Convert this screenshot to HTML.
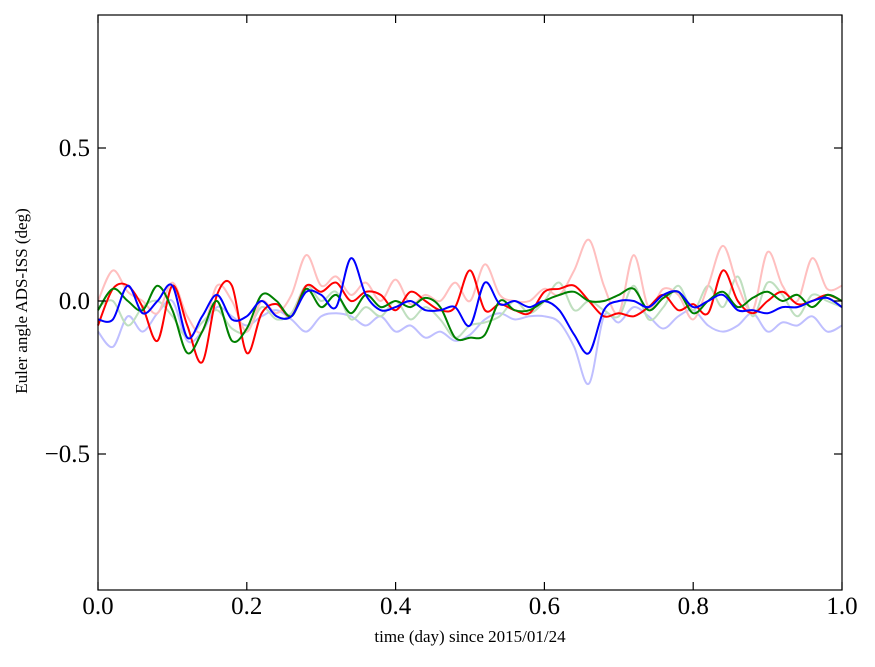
<!DOCTYPE html>
<html><head><meta charset="utf-8"><style>
body{margin:0;background:#fff;}
svg text{font-family:"Liberation Serif",serif;fill:#000;}
</style></head><body>
<svg id="chart" width="875" height="662" xmlns="http://www.w3.org/2000/svg">
<rect x="0" y="0" width="875" height="662" fill="#fff"/>
<g id="series"></g>
<rect x="98" y="15" width="744" height="575" fill="none" stroke="#000" stroke-width="1.2"/>
<g id="ticks"></g>
<text x="470" y="642" font-size="17" text-anchor="middle">time (day) since 2015/01/24</text>
<text transform="translate(27,301) rotate(-90)" font-size="17" text-anchor="middle">Euler angle ADS-ISS (deg)</text>
</svg>
<script>
const times=[0,.02,.04,.06,.08,.10,.12,.14,.16,.18,.20,.22,.24,.26,.28,.30,.32,.34,.36,.38,.40,.42,.44,.46,.48,.50,.52,.54,.56,.58,.60,.62,.64,.66,.68,.70,.72,.74,.76,.78,.80,.82,.84,.86,.88,.90,.92,.94,.96,.98,1.0];
const redVals=[-0.08,0.04,0.05,-0.02,-0.13,0.05,-0.08,-0.2,0.02,0.05,-0.17,-0.04,-0.01,-0.05,0.05,0.03,0.06,0.0,0.03,0.02,-0.03,0.03,0.0,-0.03,-0.02,0.1,-0.03,-0.01,-0.03,-0.04,0.03,0.04,0.05,0.0,-0.05,-0.04,-0.05,-0.02,0.02,-0.03,-0.01,-0.04,0.1,0.0,-0.04,0.0,0.03,-0.01,0.0,0.02,0.0];
const greenVals=[-0.03,0.04,0.0,-0.03,0.05,-0.03,-0.17,-0.1,0.0,-0.13,-0.09,0.02,0.0,-0.05,0.04,-0.02,0.02,-0.04,0.02,-0.02,0.0,-0.02,0.01,-0.02,-0.12,-0.12,-0.11,0.0,-0.03,-0.03,0.0,0.02,0.03,0.0,0.0,0.02,0.04,-0.03,0.01,0.03,-0.04,0.0,0.03,-0.02,0.01,0.03,0.0,0.02,-0.02,0.02,0.0];
const blueVals=[-0.06,-0.06,0.05,-0.04,0.0,0.05,-0.12,-0.05,0.02,-0.06,-0.05,0.0,-0.05,-0.05,0.03,0.02,-0.02,0.14,0.02,-0.03,-0.02,0.0,-0.03,-0.03,-0.02,-0.08,0.06,-0.01,0.0,-0.02,0.0,-0.03,-0.11,-0.17,-0.03,0.0,0.0,-0.02,0.02,0.03,-0.02,0.0,0.02,-0.03,-0.03,-0.04,-0.02,-0.02,0.0,0.01,-0.02];
const lightRedVals=[0.0,0.1,0.03,0.0,-0.04,0.06,-0.05,-0.1,0.05,0.0,-0.1,0.0,-0.04,0.02,0.15,0.05,0.08,0.02,0.06,0.0,0.07,-0.01,0.02,0.0,0.06,0.0,0.12,0.02,0.0,0.0,0.04,0.02,0.1,0.2,0.05,-0.04,0.15,-0.02,0.04,0.02,-0.06,0.05,0.18,0.05,-0.03,0.16,0.05,0.0,0.14,0.04,0.05];
const lightGreenVals=[-0.02,0.0,-0.08,-0.02,0.0,-0.05,-0.12,-0.07,-0.03,-0.09,-0.1,-0.02,-0.06,-0.04,0.05,0.0,0.03,-0.06,-0.02,-0.05,0.0,-0.06,-0.02,-0.06,-0.12,-0.08,-0.07,-0.05,0.0,-0.04,0.0,0.06,-0.03,0.0,-0.03,-0.05,0.05,-0.06,-0.02,0.05,-0.03,0.05,-0.02,0.08,-0.05,0.06,0.02,-0.05,0.02,0.0,-0.02];
const lightBlueVals=[-0.1,-0.15,-0.05,-0.1,-0.04,0.0,-0.13,-0.1,-0.02,-0.05,-0.08,-0.05,-0.03,-0.06,-0.1,-0.05,-0.04,-0.05,-0.08,-0.05,-0.1,-0.08,-0.12,-0.1,-0.13,-0.11,-0.06,-0.04,-0.06,-0.05,-0.05,-0.07,-0.15,-0.27,-0.05,-0.07,-0.02,-0.05,-0.09,-0.05,-0.03,-0.08,-0.1,-0.08,-0.04,-0.1,-0.07,-0.08,-0.05,-0.1,-0.08];
const xTicks=[0,0.2,0.4,0.6,0.8,1.0];
const xTickLabels=["0.0","0.2","0.4","0.6","0.8","1.0"];
const yTicks=[-0.5,0,0.5];
const yTickLabels=["\u22120.5","0.0","0.5"];

const NS="http://www.w3.org/2000/svg";
function xs(v){return 98+v*744;}
function ys(v){return 301-v*306;}
const sg=document.getElementById('series');
function drawSeries(vals,color,name){
  const pts=vals.map((v,i)=>[xs(times[i]),ys(v)]);
  let d='M'+pts[0][0].toFixed(1)+','+pts[0][1].toFixed(1);
  for(let i=0;i<pts.length-1;i++){
    const p0=pts[Math.max(0,i-1)],p1=pts[i],p2=pts[i+1],p3=pts[Math.min(pts.length-1,i+2)];
    const c1=[p1[0]+(p2[0]-p0[0])/6,p1[1]+(p2[1]-p0[1])/6];
    const c2=[p2[0]-(p3[0]-p1[0])/6,p2[1]-(p3[1]-p1[1])/6];
    d+='C'+c1[0].toFixed(1)+','+c1[1].toFixed(1)+' '+c2[0].toFixed(1)+','+c2[1].toFixed(1)+' '+p2[0].toFixed(1)+','+p2[1].toFixed(1);
  }
  const p=document.createElementNS(NS,'path');
  p.setAttribute('d',d);p.setAttribute('fill','none');p.setAttribute('stroke',color);
  p.setAttribute('stroke-width','2');p.setAttribute('stroke-linejoin','round');
  
  
  sg.appendChild(p);
}
drawSeries(lightBlueVals,'#bfbfff','light-blue-series');
drawSeries(lightGreenVals,'#bfdfbf','light-green-series');
drawSeries(lightRedVals,'#ffbfbf','light-red-series');
drawSeries(redVals,'#ff0000','red-series');
drawSeries(greenVals,'#008000','green-series');
drawSeries(blueVals,'#0000ff','blue-series');

const tg=document.getElementById('ticks');
function line(x1,y1,x2,y2,name){
  const l=document.createElementNS(NS,'line');
  l.setAttribute('x1',x1);l.setAttribute('y1',y1);l.setAttribute('x2',x2);l.setAttribute('y2',y2);
  l.setAttribute('stroke','#000');l.setAttribute('stroke-width','1.2');
  
  
  tg.appendChild(l);
}
function text(x,y,s,anchor,name){
  const t=document.createElementNS(NS,'text');
  t.setAttribute('x',x);t.setAttribute('y',y);t.setAttribute('font-size','25');t.setAttribute('text-anchor',anchor);
  t.textContent=s;
  
  
  tg.appendChild(t);
}
xTicks.forEach((v,i)=>{
  const x=xs(v);
  line(x,590,x,582,'x-tick');
  line(x,15,x,23,'x-tick-top');
  text(x,614,xTickLabels[i],'middle','x-tick-label');
});
yTicks.forEach((v,i)=>{
  const y=ys(v);
  line(98,y,106,y,'y-tick');
  line(842,y,834,y,'y-tick-right');
  text(90,y+8,yTickLabels[i],'end','y-tick-label');
});
</script>
</body></html>
